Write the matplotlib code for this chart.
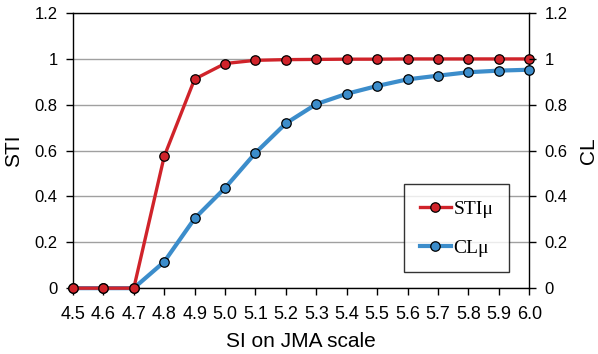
import matplotlib
matplotlib.use("Agg")
import matplotlib.pyplot as plt
from matplotlib.ticker import FuncFormatter

SI = [4.5, 4.6, 4.7, 4.8, 4.9, 5.0, 5.1, 5.2, 5.3, 5.4, 5.5, 5.6, 5.7, 5.8, 5.9, 6.0]
STI_MU = [0, 0, 0, 0.575, 0.912, 0.980, 0.994, 0.997, 0.998, 0.999, 0.999, 1.0, 1.0, 1.0, 1.0, 1.0]
CL_MU = [0, 0, 0, 0.115, 0.304, 0.437, 0.590, 0.719, 0.803, 0.848, 0.882, 0.911, 0.927, 0.942, 0.949, 0.953]
X_LABELS = ["4.5", "4.6", "4.7", "4.8", "4.9", "5.0", "5.1", "5.2", "5.3", "5.4",
            "5.5", "5.6", "5.7", "5.8", "5.9", "6.0"]
Y_TICKS = [0, 0.2, 0.4, 0.6, 0.8, 1.0, 1.2]

RED = "#D0232A"
BLUE = "#3C8DCB"


def main():
    plt.rcParams["font.family"] = ["Liberation Sans", "DejaVu Sans"]
    fig = plt.figure(figsize=(5.98, 3.54), dpi=100)
    ax = fig.add_axes([0.122, 0.186, 0.763, 0.777])

    ax.plot(SI, STI_MU, color=RED, lw=2.4, marker="o", ms=6.8,
            markerfacecolor=RED, markeredgecolor="black", markeredgewidth=0.9,
            label="STIμ", clip_on=False, zorder=4)
    ax.plot(SI, CL_MU, color=BLUE, lw=3.0, marker="o", ms=6.8,
            markerfacecolor=BLUE, markeredgecolor="black", markeredgewidth=0.9,
            label="CLμ", clip_on=False, zorder=3)

    ax.set_xlim(4.5, 6.0)
    ax.set_ylim(0, 1.2)
    ax.set_xticks(SI)
    ax.set_xticklabels(X_LABELS, family=["Liberation Sans Narrow", "Liberation Sans"],
                       fontsize=13)
    fmt = FuncFormatter(lambda v, p: f"{v:g}")
    ax.set_yticks(Y_TICKS)
    ax.yaxis.set_major_formatter(fmt)
    ax.tick_params(axis="y", labelsize=12, length=5, width=1, pad=6)
    ax.tick_params(axis="x", length=5, width=1, pad=8)
    ax.grid(axis="y", color="#A0A0A0", lw=1)
    ax.set_axisbelow(True)
    for s in ax.spines.values():
        s.set_color("black")
        s.set_linewidth(1)

    ax.set_xlabel("SI on JMA scale", fontsize=15, labelpad=6)
    ax.set_ylabel("STI", fontsize=15, labelpad=8)

    ax2 = ax.twinx()
    ax2.set_ylim(0, 1.2)
    ax2.set_yticks(Y_TICKS)
    ax2.yaxis.set_major_formatter(fmt)
    ax2.tick_params(axis="y", labelsize=12, length=5, width=1, pad=6)
    ax2.set_ylabel("CL", fontsize=15, labelpad=8)
    for s in ax2.spines.values():
        s.set_visible(False)

    leg = ax2.legend(*ax.get_legend_handles_labels(), loc="lower right",
                     bbox_to_anchor=(0.956, 0.058), frameon=True, fancybox=False,
                     edgecolor="black", borderpad=0.8, labelspacing=1.1,
                     handlelength=1.6, handletextpad=0.15, borderaxespad=0,
                     prop={"family": "Liberation Serif", "size": 14})
    leg.get_frame().set_linewidth(1)
    leg.set_zorder(10)

    fig.savefig("out.png", dpi=100)


if __name__ == "__main__":
    main()
